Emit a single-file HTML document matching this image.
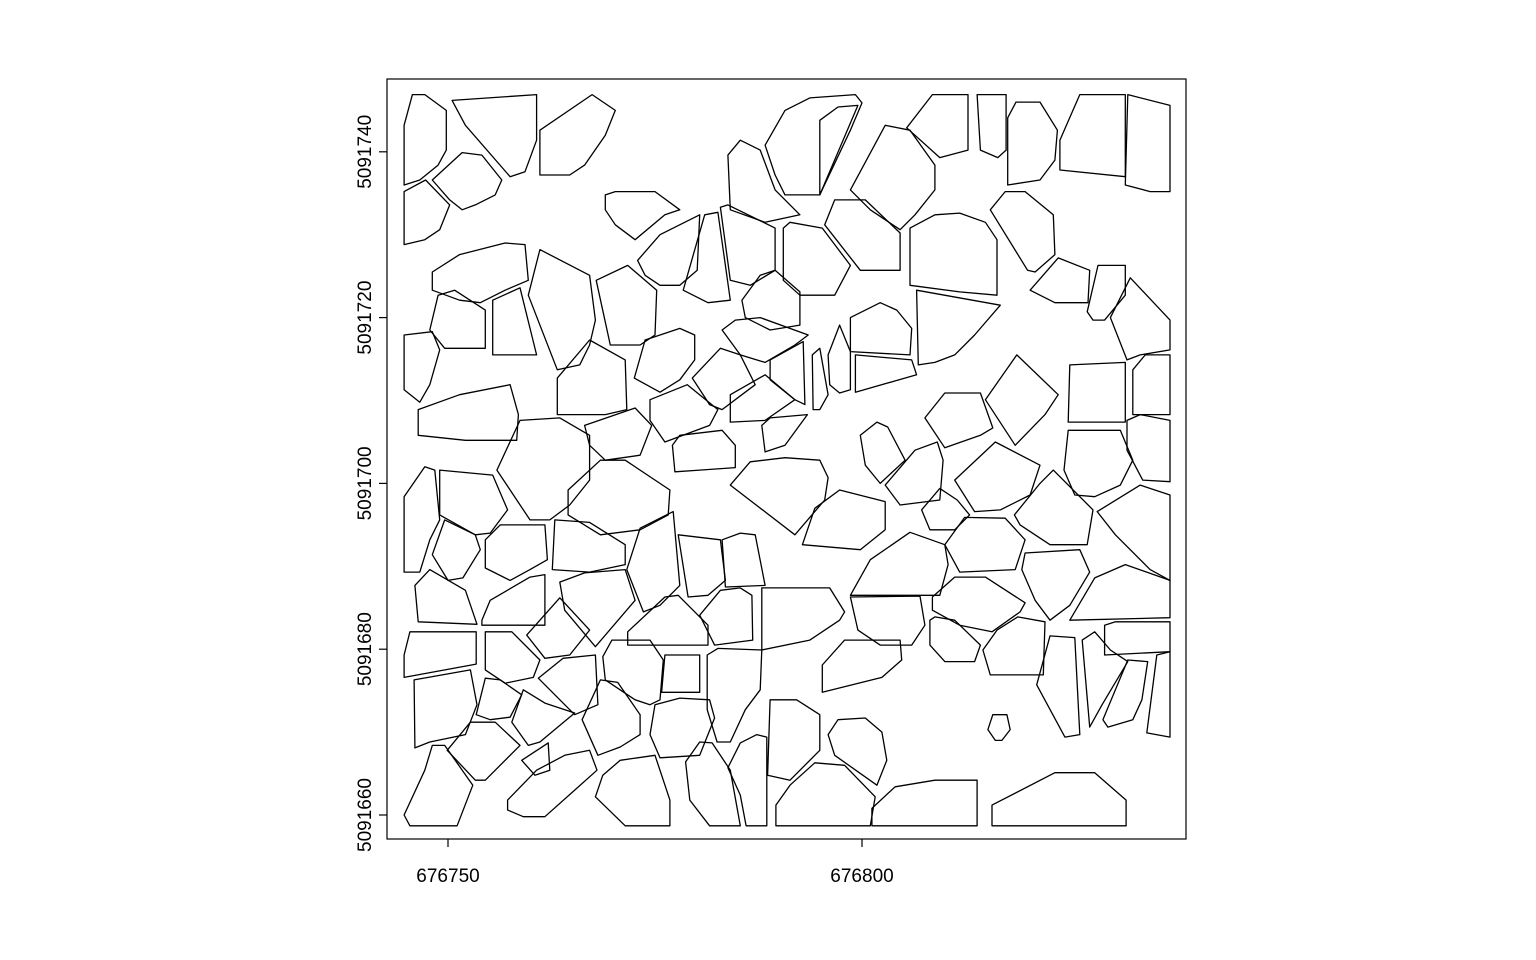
<!DOCTYPE html>
<html><head><meta charset="utf-8"><style>
html,body{margin:0;padding:0;background:#fff;}
svg{display:block;font-family:"Liberation Sans",Arial,sans-serif;}
</style></head><body>
<svg id="chart" width="1536" height="960" viewBox="0 0 1536 960" xmlns="http://www.w3.org/2000/svg">
<rect x="0" y="0" width="1536" height="960" fill="#fff"/>
<g id="polys"></g>
<rect x="387" y="79" width="799" height="760" fill="none" stroke="#000" stroke-width="1.2"/>
<g id="axes"></g>
</svg>
<script>
const X0 = 676750, Y0 = 5091660;
const xTicks = [676750, 676800];
const yTicks = [5091660, 5091680, 5091700, 5091720, 5091740];
const polygons = [
[-5.3,83.2,-4.3,86.9,-2.8,86.9,-0.2,85.0,-0.2,80.2,-1.2,78.4,-3.4,76.6,-5.3,76.0],
[0.5,86.2,10.7,86.9,10.7,81.4,9.3,77.6,7.5,77.0,2.1,83.2],
[11.1,82.6,17.4,86.9,20.2,85.0,19.0,82.0,16.5,78.4,14.7,77.2,11.1,77.2],
[-1.9,76.6,1.7,79.9,4.1,79.6,6.5,76.6,5.7,74.8,3.3,73.6,1.7,73.0,0.2,74.2],
[-5.3,75.2,-2.7,76.6,0.2,73.6,-1.0,70.6,-2.8,69.4,-5.3,68.8],
[19.0,74.8,20.2,75.2,25.0,75.2,28.0,73.0,26.2,72.4,22.6,69.4,20.2,71.2,19.0,73.0],
[33.8,79.6,35.3,81.4,37.7,80.2,39.5,75.4,42.5,72.4,38.3,71.5,34.1,73.0],
[38.3,80.8,40.7,85.0,43.7,86.5,49.2,86.9,50.0,85.9,48.6,82.6,44.9,74.8,40.7,74.8,39.5,77.2],
[44.9,83.8,47.1,85.4,49.5,85.6,44.9,74.8],
[48.6,75.4,52.8,83.2,55.8,82.6,58.8,78.4,58.8,75.4,56.4,72.4,54.6,70.6,51.0,73.0],
[55.4,82.9,58.5,86.9,62.8,86.9,62.8,80.2,59.4,79.3],
[63.9,86.9,67.4,86.9,67.4,80.2,66.4,79.3,64.3,80.2],
[67.6,84.1,68.6,86.0,71.5,86.0,73.6,82.6,73.3,79.0,71.5,76.6,67.6,76.0],
[73.9,81.4,76.3,86.9,81.8,86.9,81.8,77.0,73.9,77.8],
[82.1,86.9,87.2,85.6,87.2,75.2,84.8,75.2,81.8,76.0],
[-1.9,65.5,1.4,67.6,6.9,69.0,9.3,68.8,9.7,64.5,6.9,63.3,3.9,61.8,1.4,62.1,-1.9,63.3],
[-2.2,58.5,-1.2,62.7,0.8,63.3,4.5,60.9,4.5,56.3,-0.4,56.3],
[5.4,62.1,8.7,63.6,10.7,55.5,5.4,55.5],
[9.7,62.7,11.1,68.2,17.1,65.1,17.8,59.7,17.1,56.7,15.9,54.3,13.2,53.7],
[17.9,64.5,21.7,66.3,25.2,63.3,25.0,57.9,23.2,56.7,19.6,56.7],
[22.9,66.9,25.6,70.0,30.4,72.4,30.1,65.7,28.0,63.9,25.6,63.9,23.8,65.1],
[28.4,63.3,31.0,72.4,32.6,72.7,34.1,62.1,31.4,61.8],
[32.9,73.3,33.8,73.6,39.5,70.8,39.5,65.7,36.5,63.9,34.1,64.5],
[40.5,70.8,41.3,71.5,45.2,70.8,48.6,66.3,46.7,62.7,42.5,62.7,40.5,64.5],
[45.5,71.2,46.7,74.2,50.4,74.2,54.6,70.2,54.6,65.7,49.8,65.7],
[55.8,70.8,58.8,72.4,61.8,72.6,64.9,71.5,66.3,69.4,66.3,62.7,61.8,63.1,55.8,63.9],
[65.5,73.0,67.3,75.2,69.7,75.2,73.1,72.4,73.3,67.6,70.9,65.5,70.0,65.7],
[70.3,63.3,73.7,67.2,77.5,65.7,77.3,61.8,73.3,61.8],
[77.2,60.7,78.5,66.3,81.8,66.3,81.8,62.7,79.3,59.7,77.9,59.7],
[80.0,60.0,82.4,64.8,87.2,59.7,87.2,56.1,83.6,55.5,82.0,54.9],
[35.5,62.1,37.7,65.1,39.5,65.7,42.5,63.1,42.5,59.1,38.9,58.5,35.9,60.0],
[33.1,58.5,34.7,59.7,37.7,60.0,43.5,57.9,41.9,56.7,38.3,54.6,35.3,55.5],
[-5.3,57.9,-1.9,58.3,-1.0,56.1,-2.2,51.9,-3.4,49.8,-5.3,51.3],
[22.5,52.7,23.8,57.3,28.0,58.7,29.8,57.9,29.8,54.9,28.0,52.5,25.6,51.0],
[13.2,52.7,17.1,57.3,21.4,54.9,21.6,48.9,19.0,48.3,13.2,48.3],
[29.5,52.7,32.9,56.3,35.3,55.5,37.1,51.9,35.5,50.7,33.1,48.9,31.6,49.5],
[38.9,54.9,42.9,57.1,43.1,49.5,41.9,50.1,38.9,52.5],
[44.0,55.5,44.9,56.3,45.9,50.7,44.9,48.9,44.1,48.9],
[45.9,55.5,47.3,59.1,48.6,55.9,48.6,51.3,47.3,50.9,46.1,51.9],
[48.6,60.0,52.2,61.8,54.2,60.9,56.0,58.7,55.8,55.5,48.6,55.9],
[56.6,63.3,66.7,61.5,63.6,57.9,61.2,55.5,58.8,54.6,56.8,54.3],
[49.2,55.5,56.0,54.9,56.6,53.1,49.2,51.0],
[34.1,50.7,38.3,53.1,41.9,50.1,38.3,47.6,34.1,47.4],
[-3.6,48.9,1.4,50.7,7.5,51.9,8.5,48.3,8.3,45.2,2.1,45.2,-3.6,45.8],
[24.4,50.1,28.9,51.9,32.6,48.9,31.6,47.0,26.2,45.0,24.4,47.6],
[16.5,47.0,22.6,49.1,24.6,47.0,23.2,43.4,19.0,42.8,17.1,44.6],
[37.9,47.0,38.9,47.9,43.4,48.3,40.7,44.6,38.3,43.8],
[27.1,44.6,28.0,45.8,33.1,46.4,34.7,44.6,34.7,41.9,30.4,41.6,27.4,41.4],
[64.9,50.1,68.7,55.5,73.7,50.7,72.1,48.3,68.5,44.6],
[75.1,54.3,81.8,54.6,81.8,47.4,74.9,47.4],
[82.7,53.7,84.2,55.5,87.2,55.5,87.2,48.3,82.7,48.3],
[57.6,47.9,60.0,50.9,64.3,50.9,65.8,46.7,64.3,45.8,60.0,44.3],
[49.8,45.8,51.8,47.4,53.1,46.8,55.2,42.8,52.2,40.0,50.4,42.2],
[5.9,41.6,8.7,47.6,13.5,47.9,17.1,45.8,17.1,40.4,14.7,37.4,12.3,35.6,9.9,35.6],
[74.4,41.6,74.9,46.4,81.2,46.4,82.7,42.8,81.2,39.8,78.1,38.4,75.7,38.6],
[82.0,47.6,83.6,48.3,87.2,47.6,87.2,40.2,83.9,40.4,82.0,44.0],
[52.8,39.8,56.4,44.0,59.1,45.0,59.8,42.8,59.4,38.0,54.6,37.4],
[61.2,40.4,66.1,45.0,71.5,42.2,70.3,38.6,66.7,36.8,63.6,36.6],
[34.1,39.8,36.5,42.6,40.7,43.1,44.9,42.8,45.9,40.7,45.5,38.0,41.9,33.8],
[14.5,39.2,18.4,42.8,21.4,42.8,26.8,39.2,26.6,36.2,23.2,34.4,18.4,33.8,14.5,36.2],
[-5.3,38.4,-2.8,42.0,-1.6,41.6,-1.0,35.6,-2.2,33.2,-3.4,29.3,-5.3,29.3],
[-1.0,41.6,5.4,41.0,7.2,36.8,5.1,34.0,3.3,33.8,-1.0,36.2],
[68.4,36.2,71.5,40.0,73.1,41.6,77.9,36.8,77.2,32.6,72.7,32.6,69.1,35.0],
[78.4,36.6,83.6,39.8,87.2,38.6,87.2,28.3,84.8,29.6,80.6,33.8],
[57.2,36.8,59.4,39.4,61.5,38.0,63.0,36.2,61.2,34.4,58.2,34.4],
[42.8,32.6,44.3,37.0,47.3,39.2,52.8,37.8,52.8,34.4,49.8,32.0],
[60.0,32.6,62.4,35.9,67.3,35.8,69.7,33.2,68.5,29.6,61.8,29.3],
[-1.9,31.4,-0.4,35.6,3.3,33.8,3.9,32.0,1.8,28.6,0,28.3],
[4.5,33.2,6.3,35.0,11.7,35.0,12.0,30.8,9.9,29.6,7.5,28.3,4.5,29.8],
[12.6,29.6,12.9,35.6,17.1,35.3,21.4,32.6,21.4,30.2,17.1,29.3],
[21.6,29.6,23.2,34.6,27.2,36.6,28.0,27.7,25.6,25.3,23.6,24.5],
[27.8,33.8,32.9,33.2,33.5,28.3,31.4,26.5,29.0,26.3],
[33.1,33.2,35.3,34.0,37.1,33.8,38.3,27.7,33.5,27.5],
[48.6,26.5,51.0,30.8,55.8,34.1,60.0,32.6,60.4,30.2,59.4,26.5],
[69.3,29.6,69.7,31.6,76.3,32.0,77.5,29.3,75.1,25.3,72.7,23.5,70.9,25.9],
[75.1,23.5,78.1,28.6,81.8,30.2,87.2,28.3,87.2,23.8],
[58.5,26.3,61.2,28.7,64.9,28.7,69.7,25.6,69.1,24.5,65.7,22.1,61.8,22.9,58.5,24.7],
[-4.0,27.7,-2.2,29.6,2.1,27.1,3.5,23.0,-3.6,23.3],
[4.1,23.5,5.1,25.9,9.9,28.7,11.7,29.0,11.7,22.9,4.1,22.9],
[13.5,28.1,16.5,29.2,21.4,29.6,22.6,25.9,17.8,20.3,14.1,24.7],
[9.5,21.7,13.5,26.2,17.1,22.3,14.7,19.3,11.7,18.9],
[21.7,22.1,26.2,26.3,27.8,26.5,31.4,22.9,31.4,20.5,21.7,20.5],
[30.4,24.1,32.9,27.1,35.3,27.4,36.7,26.5,36.8,21.1,32.2,20.5],
[37.9,27.4,46.1,27.4,47.9,24.5,47.3,23.5,43.7,21.1,37.9,19.9],
[48.6,26.3,57.0,26.4,57.6,22.9,56.0,20.5,52.2,20.5,49.5,22.3],
[58.2,23.5,58.8,23.9,61.2,23.5,64.3,20.5,63.6,18.5,60.0,18.5,58.2,20.5],
[64.6,19.9,66.3,22.3,68.8,23.9,72.1,23.3,71.9,16.9,65.5,16.9],
[79.3,22.9,80.6,23.3,87.2,23.3,87.2,19.7,79.3,19.3],
[-5.3,19.3,-4.6,22.1,3.4,22.1,3.4,18.2,-5.3,16.6],
[4.5,22.1,7.7,22.1,11.1,18.7,10.3,16.6,6.9,15.9,4.5,17.5],
[-4.1,16.3,2.7,17.5,3.5,13.3,2.1,9.7,-2.2,8.8,-4.0,8.1],
[10.9,16.5,13.9,18.9,17.8,19.3,18.1,13.3,15.3,12.1],
[18.7,19.1,19.8,21.1,24.4,21.1,26.0,18.7,25.6,13.9,24.4,13.3,22.6,13.9,19.0,16.3],
[25.8,14.8,26.2,19.3,30.4,19.3,30.4,14.8],
[31.3,19.3,32.6,20.1,37.9,19.9,37.7,15.1,35.9,12.7,34.1,8.8,32.5,8.8,31.3,12.7],
[45.2,18.1,47.9,21.1,54.6,21.1,54.8,18.7,52.4,16.6,45.2,14.8],
[71.1,15.7,72.7,21.6,75.7,21.4,76.3,9.7,74.5,9.4],
[76.6,21.1,78.1,22.1,80.0,19.9,82.1,18.5,79.0,13.3,77.5,10.6],
[79.1,11.5,82.1,18.7,84.5,18.5,83.8,13.9,82.7,11.5,79.7,10.6],
[84.4,9.9,85.6,19.3,87.2,19.7,87.2,9.4],
[3.4,12.1,4.5,16.5,6.3,16.3,8.9,14.5,7.5,11.8,5.1,11.5],
[7.7,11.2,9.1,15.1,11.7,13.5,15.3,12.3,11.1,8.8,9.7,8.4],
[16.2,11.5,18.4,16.3,20.5,16.0,23.2,12.1,23.2,9.7,20.8,8.2,18.1,7.2],
[24.4,9.7,25.0,13.3,28.0,14.1,31.6,13.9,32.2,11.7,30.4,7.2,25.6,6.9],
[-0.1,7.8,2.7,11.2,5.7,11.2,8.7,8.4,4.5,4.2,3.3,4.2],
[8.9,6.6,12.1,8.7,12.3,5.4,10.5,4.8],
[-5.3,0,-2.8,5.4,-1.9,8.4,-0.4,8.4,3.0,3.6,1.1,-1.3,-4.6,-1.3],
[7.2,1.8,10.7,5.4,14.1,7.2,17.1,7.8,18.0,5.4,15.3,3.0,11.7,-0.2,9.1,-0.2,7.2,0.6],
[17.8,2.2,18.7,4.8,20.8,6.6,25.0,7.2,26.8,1.8,26.8,-1.3,21.4,-1.3],
[28.7,6.4,30.4,8.8,31.9,8.7,34.1,5.4,35.3,-1.3,31.6,-1.3,29.2,1.8],
[33.8,5.7,35.3,8.7,37.3,9.7,38.5,9.4,38.5,-1.3,36.0,-1.3,35.3,2.4],
[38.6,4.8,38.9,13.9,42.1,13.9,44.9,12.1,44.9,7.8,41.3,4.2],
[45.9,9.7,47.1,11.5,50.4,11.7,52.4,10.0,53.0,6.6,51.8,3.6,46.7,7.2],
[39.6,1.2,41.3,3.6,44.3,6.3,47.9,6.0,51.6,2.2,51.0,-1.3,39.6,-1.3],
[51.2,0.8,54.0,3.4,58.8,4.2,63.9,4.2,63.9,-1.3,51.2,-1.3],
[65.7,1.2,73.3,5.1,78.1,5.1,81.9,1.8,81.9,-1.3,65.7,-1.3],
[65.2,10.3,65.8,12.1,67.5,12.1,67.9,10.3,66.9,9.0,66.1,9.0]
];

const NS = "http://www.w3.org/2000/svg";
function xs(v){ return 448 + (v) * 8.28; }
function ys(v){ return 815 - (v) * 8.29; }
const pg = document.getElementById('polys');
polygons.forEach(function(p, i){
  const pts = [];
  for (let k = 0; k < p.length; k += 2) pts.push(xs(p[k]).toFixed(1) + ',' + ys(p[k+1]).toFixed(1));
  const el = document.createElementNS(NS, 'polygon');
  el.setAttribute('points', pts.join(' '));
  el.setAttribute('fill', 'none');
  el.setAttribute('stroke', '#000');
  el.setAttribute('stroke-width', '1.3');
  el.setAttribute('stroke-linejoin', 'round');
  
  
  pg.appendChild(el);
});
const ax = document.getElementById('axes');
xTicks.forEach(function(t){
  const x = xs(t - X0);
  const l = document.createElementNS(NS, 'line');
  l.setAttribute('x1', x); l.setAttribute('x2', x);
  l.setAttribute('y1', 839); l.setAttribute('y2', 847);
  l.setAttribute('stroke', '#000'); l.setAttribute('stroke-width', '1.2');
  
  
  ax.appendChild(l);
  const tx = document.createElementNS(NS, 'text');
  tx.setAttribute('x', x); tx.setAttribute('y', 882);
  tx.setAttribute('text-anchor', 'middle'); tx.setAttribute('font-size', '19');
  tx.textContent = String(t);
  
  
  ax.appendChild(tx);
});
yTicks.forEach(function(t){
  const y = ys(t - Y0);
  const l = document.createElementNS(NS, 'line');
  l.setAttribute('x1', 379); l.setAttribute('x2', 387);
  l.setAttribute('y1', y); l.setAttribute('y2', y);
  l.setAttribute('stroke', '#000'); l.setAttribute('stroke-width', '1.2');
  
  
  ax.appendChild(l);
  const tx = document.createElementNS(NS, 'text');
  tx.setAttribute('x', 0); tx.setAttribute('y', 0);
  tx.setAttribute('transform', 'translate(371,' + y + ') rotate(-90)');
  tx.setAttribute('text-anchor', 'middle'); tx.setAttribute('font-size', '19');
  tx.textContent = String(t);
  
  
  ax.appendChild(tx);
});
</script>
</body></html>
